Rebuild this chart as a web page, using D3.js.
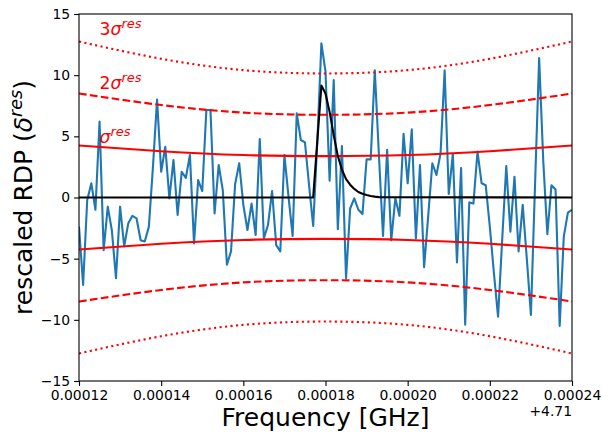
<!DOCTYPE html>
<html>
<head>
<meta charset="utf-8">
<script src="https://cdn.jsdelivr.net/npm/d3@7"></script>
<style>
  html, body { margin: 0; padding: 0; background: #fff; }
  svg { display: block; font-family: "DejaVu Sans", sans-serif; }
</style>
</head>
<body>
<svg id="chart" width="602" height="432"></svg>
<script>
// Frequency offset (GHz) relative to 4.71 GHz, 1 kHz bins
const freqStart = 0.00012;
const freqStep = 0.000001;

// Rescaled RDP per bin
const rdpValues = [
  -2.38, -7.15, -0.2, 1.16, -1.0, 6.2, -4.3, -0.75, -2.7, -6.6,
  -0.75, -4.0, -2.1, -1.5, -1.7, -3.5, -3.6, -2.4, 2.5, 8.0,
  2.1, 4.15, -0.07, 3.07, -1.43, 2.1, 1.6, 3.47, -3.75, 1.43,
  0.53, 7.15, 7.15, -1.3, 2.66, 0.6, -5.5, -4.4, 1.1, 2.8,
  -0.6, -2.66, -0.5, -3.07, 4.78, -3.34, -2.25, 0.53, -3.9, -4.4,
  3.47, 0.07, -3.15, 6.88, 4.7, 4.5, 1.0, -2.33, 4.5, 12.6,
  10.3, 1.38, 9.6, -2.6, 4.2, -6.6, -0.9, -0.07, -1.0, -1.35,
  3.12, 3.12, 10.4, 3.5, -3.15, 3.9, -3.5, -0.07, -1.5, 5.2,
  1.16, 5.57, -3.34, 2.66, -5.7, -1.5, 2.8, 1.84, 3.6, 10.4,
  0.29, 3.56, -5.3, 2.4, -10.4, -0.4, -0.5, 3.75, 1.16, 1.0,
  -2.4, -6.2, -9.75, -3.5, 2.57, -2.8, 1.7, -4.4, -0.6, -5.0,
  -9.6, 1.0, 11.4, 3.0, -3.0, 1.0, 0.66, -10.5, -3.2, -1.24,
  -1.0
];
const rdpFreqs = rdpValues.map((_, i) => freqStart + i * freqStep);

// Signal model (zero outside the listed frequencies)
const modelFreqs = [0.00012, 0.000177, 0.000178, 0.000179, 0.00018, 0.000181,
  0.000182, 0.000183, 0.000184, 0.000185, 0.000186, 0.000187, 0.000188,
  0.000189, 0.00019, 0.000191, 0.000192, 0.000193, 0.00024];
const modelValues = [0, 0, 4.6, 9.15, 8.5, 7.0, 5.1, 3.4, 2.27, 1.5, 1.05,
  0.7, 0.45, 0.3, 0.2, 0.12, 0.07, 0.03, 0];

// Residual sigma envelope
const sigmaFreqs = [0.00012, 0.00014, 0.00016, 0.00018, 0.0002, 0.00022, 0.00024];
const sigmaValues = [4.25, 3.78, 3.47, 3.38, 3.47, 3.78, 4.25];

// Axis ticks
const xTicks = [0.00012, 0.00014, 0.00016, 0.00018, 0.0002, 0.00022, 0.00024];
const xTickLabels = ["0.00012", "0.00014", "0.00016", "0.00018", "0.00020", "0.00022", "0.00024"];
const yTicks = [-15, -10, -5, 0, 5, 10, 15];
const yTickLabels = ["\u221215", "\u221210", "\u22125", "0", "5", "10", "15"];

const svg = d3.select("#chart");
const margin = { left: 79, right: 30, top: 14, bottom: 51 };
const W = 602, H = 432;
const x = d3.scaleLinear().domain([0.00012, 0.00024]).range([margin.left, W - margin.right]);
const y = d3.scaleLinear().domain([-15, 15]).range([H - margin.bottom, margin.top]);

const plot = svg.append("g");
const clipId = "plotclip";
svg.append("defs").append("clipPath").attr("id", clipId)
  .append("rect").attr("x", x.range()[0]).attr("y", y.range()[1])
  .attr("width", x.range()[1] - x.range()[0]).attr("height", y.range()[0] - y.range()[1]);
plot.attr("clip-path", `url(#${clipId})`);

// Measured RDP
const line = d3.line().x(d => x(d[0])).y(d => y(d[1]));
plot.append("path")
  .datum(rdpFreqs.map((f, i) => [f, rdpValues[i]]))
  .attr("d", line)
  .attr("fill", "none").attr("stroke", "#1f77b4").attr("stroke-width", 2.1)
  .attr("stroke-linejoin", "round");

// Sigma bands: 1, 2, 3 sigma, upper and lower
const smooth = d3.line().x(d => x(d[0])).y(d => y(d[1])).curve(d3.curveNatural);
const bandStyles = [
  { k: 1, dash: null },
  { k: 2, dash: "7.7,3.3" },
  { k: 3, dash: "2.1,3.4" }
];
bandStyles.forEach(s => {
  [1, -1].forEach(sign => {
    plot.append("path")
      .datum(sigmaFreqs.map((f, i) => [f, sign * s.k * sigmaValues[i]]))
      .attr("d", smooth)
      .attr("fill", "none").attr("stroke", "#ff0000").attr("stroke-width", 2.1)
      .attr("stroke-dasharray", s.dash);
  });
});

// Signal model
plot.append("path")
  .datum(modelFreqs.map((f, i) => [f, modelValues[i]]))
  .attr("d", line)
  .attr("fill", "none").attr("stroke", "#000").attr("stroke-width", 2.1)
  .attr("stroke-linejoin", "round");

// Band labels
const labelFreq = 0.000125;
const bandLabels = [
  { pre: "3", yv: 13.25 },
  { pre: "2", yv: 8.85 },
  { pre: "", yv: 4.45 }
];
bandLabels.forEach(b => {
  const t = svg.append("text")
    .attr("x", x(labelFreq)).attr("y", y(b.yv))
    .attr("fill", "#ff0000").attr("font-size", 17.2);
  if (b.pre) t.append("tspan").text(b.pre);
  t.append("tspan").attr("font-style", "italic").text("\u03c3");
  t.append("tspan").attr("font-style", "italic").attr("font-size", 13)
    .attr("dy", -7).text("res");
});

// Axes
const xAxis = d3.axisBottom(x).tickValues(xTicks)
  .tickFormat((d, i) => xTickLabels[i]).tickSize(4.9).tickPadding(4);
const yAxis = d3.axisLeft(y).tickValues(yTicks)
  .tickFormat((d, i) => yTickLabels[i]).tickSize(4.9).tickPadding(4);

const gx = svg.append("g").attr("transform", `translate(0,${y.range()[0]})`).call(xAxis);
const gy = svg.append("g").attr("transform", `translate(${x.range()[0]},0)`).call(yAxis);
[gx, gy].forEach(g => {
  g.select(".domain").remove();
  g.selectAll(".tick line").attr("stroke", "#000").attr("stroke-width", 1.1);
  g.selectAll(".tick text").attr("font-size", 13.9).attr("fill", "#000")
    .attr("font-family", "DejaVu Sans, sans-serif");
});

// Frame
svg.append("rect")
  .attr("x", x.range()[0]).attr("y", y.range()[1])
  .attr("width", x.range()[1] - x.range()[0]).attr("height", y.range()[0] - y.range()[1])
  .attr("fill", "none").attr("stroke", "#000").attr("stroke-width", 1.1);

// Offset text
svg.append("text")
  .attr("x", x.range()[1]).attr("y", 415.5)
  .attr("text-anchor", "end").attr("font-size", 13.9).text("+4.71");

// Axis titles
svg.append("text")
  .attr("x", (x.range()[0] + x.range()[1]) / 2).attr("y", 426)
  .attr("text-anchor", "middle").attr("font-size", 25).text("Frequency [GHz]");

const yl = svg.append("text")
  .attr("transform", `translate(32,${(y.range()[0] + y.range()[1]) / 2}) rotate(-90)`)
  .attr("text-anchor", "middle").attr("font-size", 25);
yl.append("tspan").text("rescaled RDP (");
yl.append("tspan").attr("font-style", "italic").text("\u03b4");
yl.append("tspan").attr("font-style", "italic").attr("font-size", 17.5).attr("dy", -10).text("res");
yl.append("tspan").attr("dy", 10).text(")");
</script>
</body>
</html>
